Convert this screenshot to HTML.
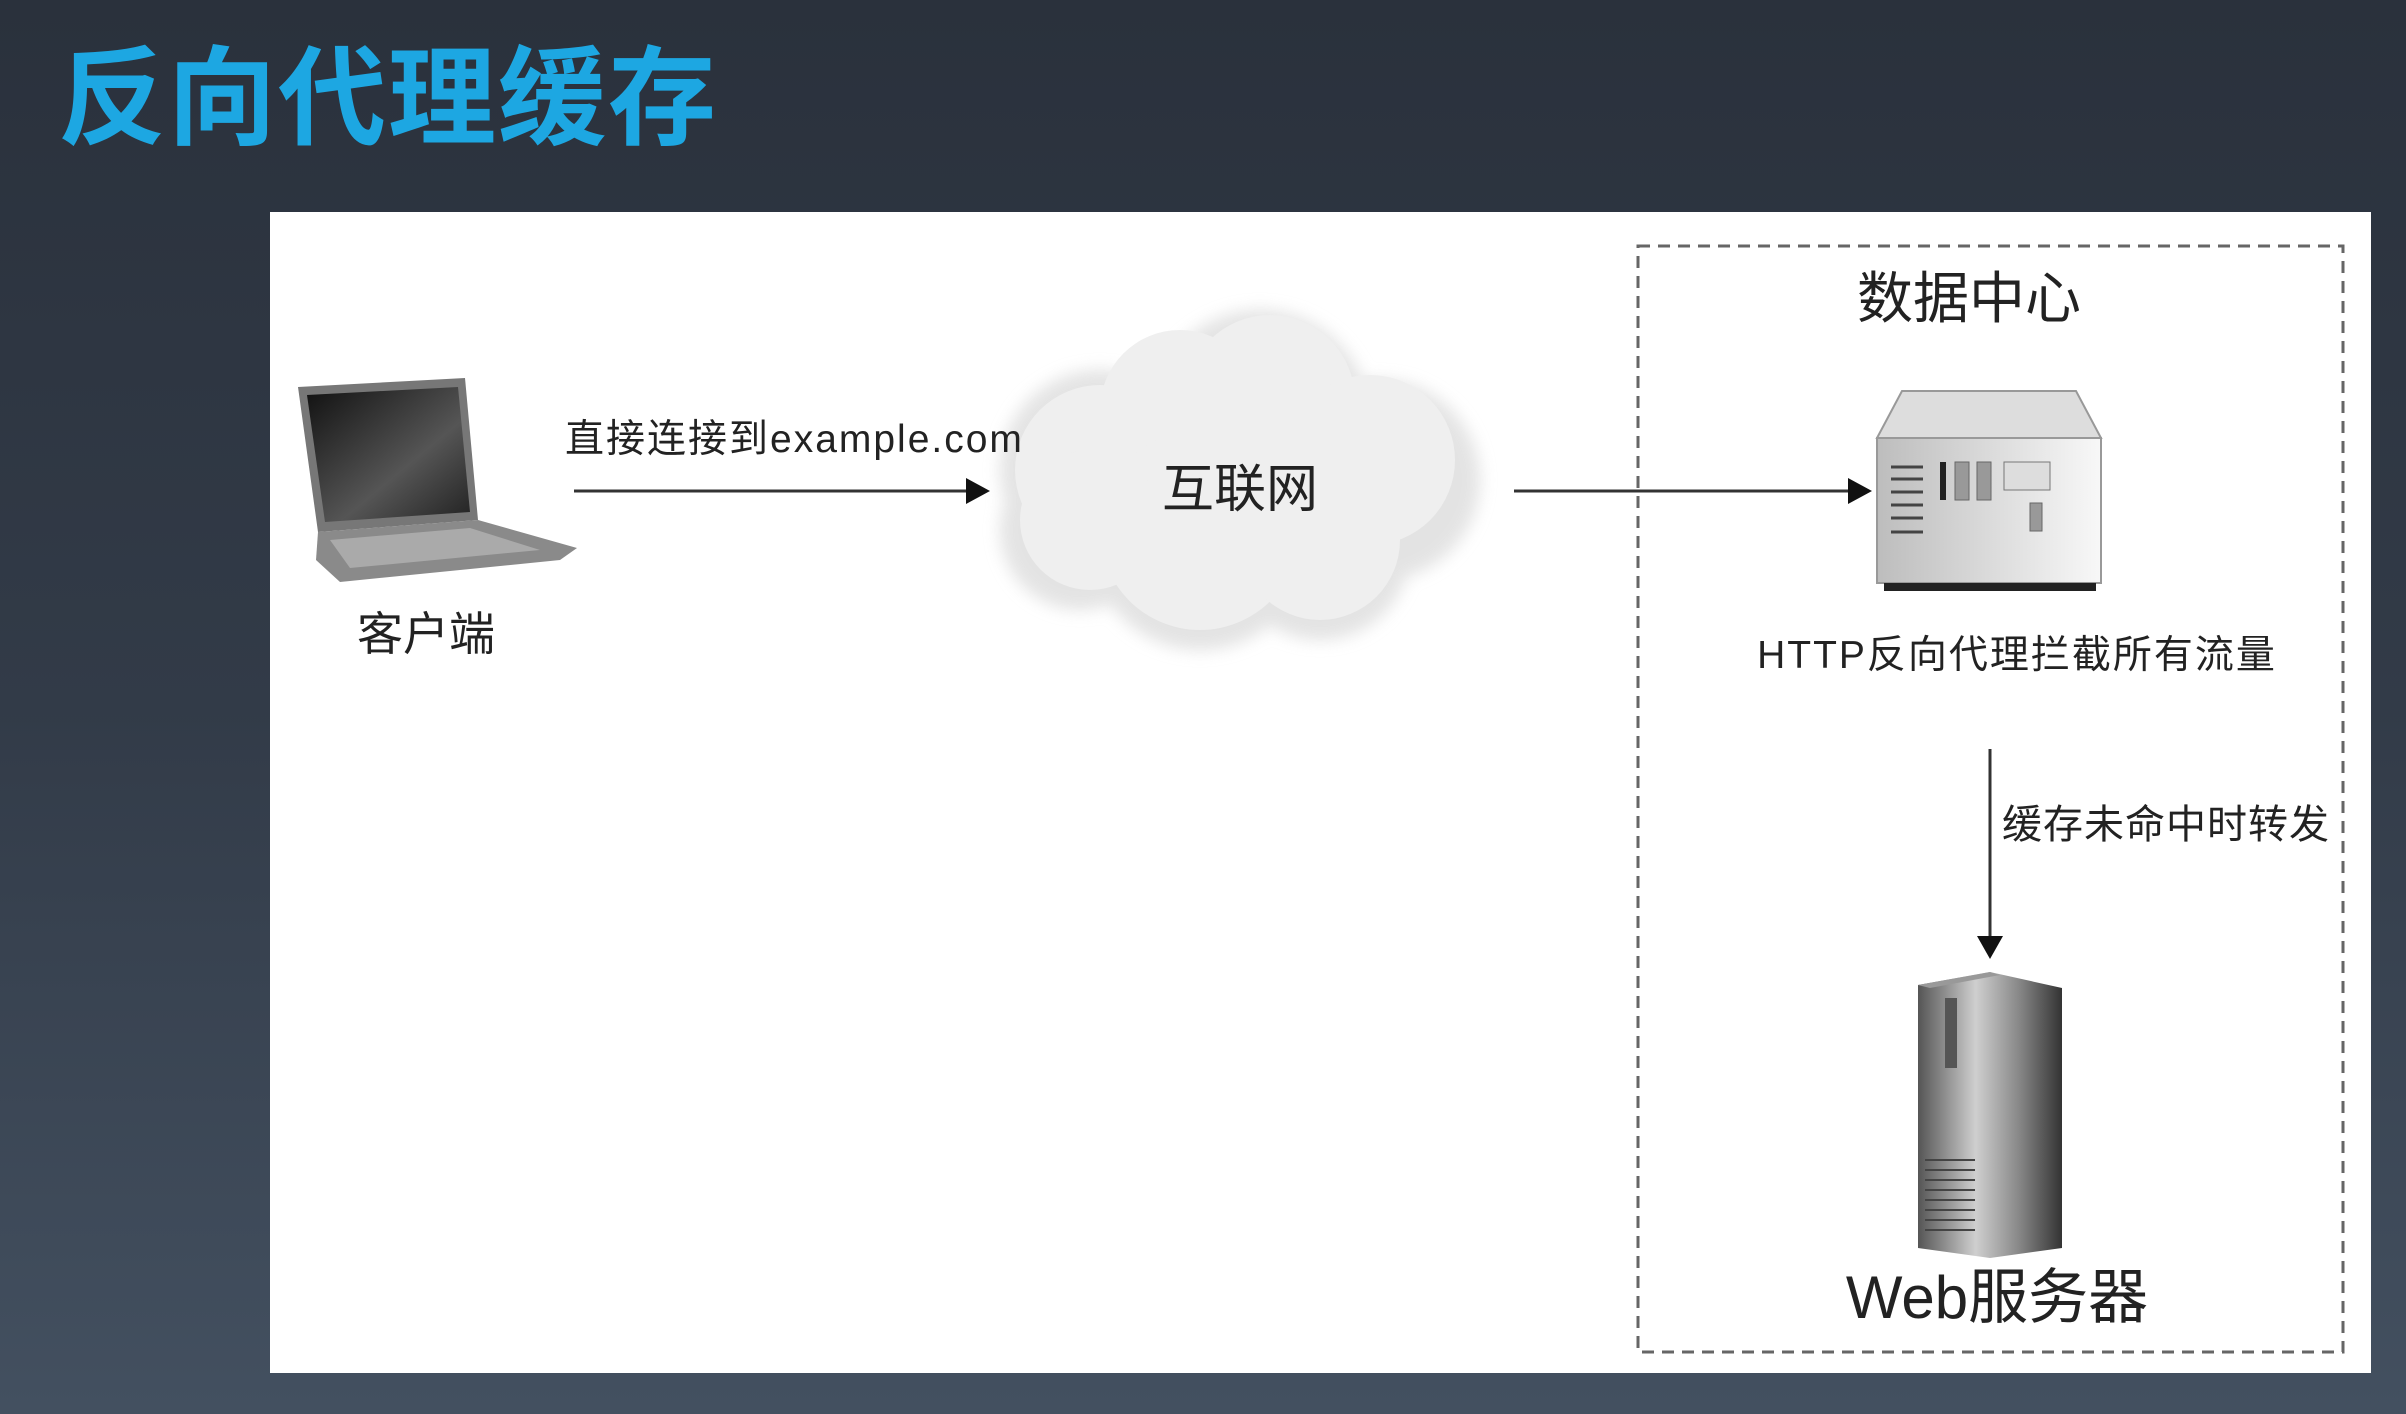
<!DOCTYPE html>
<html><head><meta charset="utf-8"><style>
html,body{margin:0;padding:0}
body{width:2406px;height:1414px;overflow:hidden;background:linear-gradient(#2a313c,#323b48 50%,#435060);font-family:"Liberation Sans","Noto Sans CJK SC",sans-serif;position:relative}
.title{position:absolute;left:58px;top:34px;font-size:108px;font-weight:bold;color:#1da7e2;letter-spacing:2px;font-family:"Liberation Sans","Noto Sans CJK SC",sans-serif;line-height:130px}
svg{position:absolute;left:0;top:0}
text{font-family:"Liberation Sans","Noto Sans CJK SC",sans-serif;fill:#222}
</style></head><body>
<div class="title">反向代理缓存</div>
<svg width="2406" height="1414" viewBox="0 0 2406 1414">
<defs>
<linearGradient id="srv" x1="0" x2="1"><stop offset="0" stop-color="#bdbdbd"/><stop offset="1" stop-color="#f8f8f8"/></linearGradient>
<linearGradient id="tw" x1="0" x2="1"><stop offset="0" stop-color="#555"/><stop offset="0.4" stop-color="#cfcfcf"/><stop offset="0.7" stop-color="#888"/><stop offset="1" stop-color="#333"/></linearGradient>
<linearGradient id="scr" x1="0" y1="0" x2="1" y2="1"><stop offset="0" stop-color="#111"/><stop offset="0.6" stop-color="#555"/><stop offset="1" stop-color="#222"/></linearGradient>
<filter id="blur"><feGaussianBlur stdDeviation="8"/></filter>
</defs>
<rect x="270" y="212" width="2101" height="1161" fill="#fff"/>
<rect x="1638" y="246" width="705" height="1106" fill="none" stroke="#666" stroke-width="3" stroke-dasharray="12,8"/>
<text x="1969" y="318" font-size="56" text-anchor="middle">数据中心</text>
<!-- laptop -->
<polygon points="298,387 465,378 478,520 318,532" fill="#777"/>
<polygon points="307,395 458,387 470,512 325,522" fill="url(#scr)"/>
<polygon points="318,532 478,520 577,548 560,560 340,582 316,560" fill="#8a8a8a"/>
<polygon points="330,540 470,528 540,550 350,568" fill="#aaa"/>
<text x="426" y="650" font-size="46" text-anchor="middle">客户端</text>
<!-- arrow 1 -->
<line x1="574" y1="491" x2="970" y2="491" stroke="#333" stroke-width="3"/>
<polygon points="966,478 990,491 966,504" fill="#111"/>
<!-- cloud -->
<g filter="url(#blur)" fill="#ddd" opacity="0.8">
<circle cx="1100" cy="470" r="100"/><circle cx="1260" cy="420" r="110"/><circle cx="1380" cy="480" r="100"/><circle cx="1200" cy="540" r="110"/><circle cx="1320" cy="550" r="90"/><circle cx="1080" cy="530" r="80"/>
</g>
<g fill="#efefef">
<circle cx="1100" cy="470" r="85"/><circle cx="1180" cy="410" r="80"/><circle cx="1270" cy="400" r="85"/><circle cx="1370" cy="460" r="85"/><circle cx="1200" cy="530" r="100"/><circle cx="1320" cy="540" r="80"/><circle cx="1090" cy="520" r="70"/>
</g>
<text x="565" y="452" font-size="39" letter-spacing="2">直接连接到example.com</text>
<text x="1240" y="507" font-size="52" text-anchor="middle">互联网</text>
<!-- arrow 2 -->
<line x1="1514" y1="491" x2="1852" y2="491" stroke="#333" stroke-width="3"/>
<polygon points="1848,478 1872,491 1848,504" fill="#111"/>
<!-- proxy server -->
<polygon points="1877,438 1902,391 2076,391 2101,438" fill="#ddd" stroke="#999" stroke-width="2"/>
<rect x="1877" y="438" width="224" height="145" fill="url(#srv)" stroke="#999" stroke-width="2"/>
<rect x="1884" y="583" width="212" height="8" fill="#222"/>
<g stroke="#444" stroke-width="3"><line x1="1891" y1="467" x2="1923" y2="467"/><line x1="1891" y1="479" x2="1923" y2="479"/><line x1="1891" y1="492" x2="1923" y2="492"/><line x1="1891" y1="505" x2="1923" y2="505"/><line x1="1891" y1="518" x2="1923" y2="518"/><line x1="1891" y1="532" x2="1923" y2="532"/></g>
<rect x="1940" y="462" width="6" height="38" fill="#222"/>
<rect x="1955" y="462" width="14" height="38" fill="#999" stroke="#666"/>
<rect x="1977" y="462" width="14" height="38" fill="#999" stroke="#666"/>
<rect x="2004" y="462" width="46" height="28" fill="#ddd" stroke="#777"/>
<rect x="2030" y="503" width="12" height="28" fill="#999" stroke="#666"/>
<text x="2017" y="668" font-size="39" text-anchor="middle" letter-spacing="2">HTTP反向代理拦截所有流量</text>
<!-- down arrow -->
<line x1="1990" y1="749" x2="1990" y2="940" stroke="#333" stroke-width="3"/>
<polygon points="1977,936 1990,959 2003,936" fill="#111"/>
<text x="2002" y="838" font-size="40" letter-spacing="1">缓存未命中时转发</text>
<!-- tower -->
<polygon points="1918,985 1990,972 2062,988 2062,1248 1990,1258 1918,1248" fill="url(#tw)"/>
<polygon points="1918,985 1990,972 2000,975 1930,988" fill="#999"/>
<rect x="1945" y="998" width="12" height="70" fill="#555"/>
<g stroke="#444" stroke-width="2"><line x1="1925" y1="1160" x2="1975" y2="1160"/><line x1="1925" y1="1170" x2="1975" y2="1170"/><line x1="1925" y1="1180" x2="1975" y2="1180"/><line x1="1925" y1="1190" x2="1975" y2="1190"/><line x1="1925" y1="1200" x2="1975" y2="1200"/><line x1="1925" y1="1210" x2="1975" y2="1210"/><line x1="1925" y1="1220" x2="1975" y2="1220"/><line x1="1925" y1="1230" x2="1975" y2="1230"/></g>
<text x="1997" y="1318" font-size="60" text-anchor="middle" letter-spacing="0">Web服务器</text>
</svg>
</body></html>
